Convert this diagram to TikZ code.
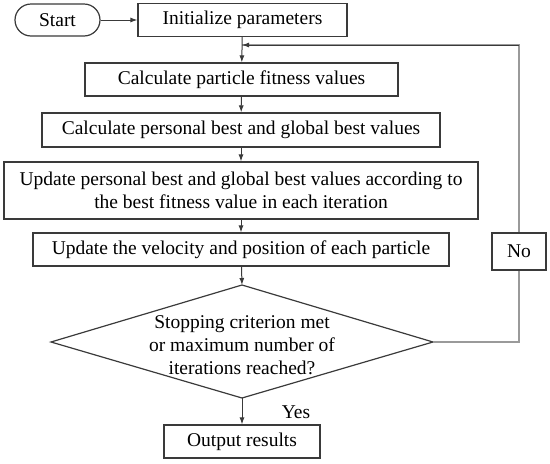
\documentclass[tikz,border=0pt]{standalone}
\usepackage{fontspec}
\setmainfont{Liberation Serif}
\usetikzlibrary{arrows.meta}
\definecolor{edge}{HTML}{3A3A3A}
\definecolor{fb}{HTML}{9A9A9A}
\tikzset{
  box/.style={draw=edge, line width=1.2pt, fill=white, inner sep=0pt, align=center,
    font=\fontsize{19.5}{23}\selectfont},
  conn/.style={draw=edge, line width=1pt, -{Latex[length=7pt,width=5pt]}},
  fbline/.style={draw=fb, line width=1.2pt},
  lbl/.style={inner sep=0pt, align=center, font=\fontsize{19.5}{23}\selectfont}
}
\begin{document}
\begin{tikzpicture}[x=1pt,y=-1pt]
\useasboundingbox (0,0) rectangle (550,464);
% decision diamond corners
\coordinate (dtop) at (242,285);
\coordinate (dright) at (433,342);
\coordinate (dbottom) at (242,398);
\coordinate (dleft) at (51,342);
\coordinate (fbc1) at (519,342);
\coordinate (fbc2) at (519,45);
\coordinate (fbend) at (242,45);

\node[box, rounded corners=16pt, minimum width=85pt, minimum height=32pt] (start) at (57.5,20) {Start};
\node[box, minimum width=209pt, minimum height=33pt] (init) at (242.5,20) {Initialize parameters};
\node[box, minimum width=313pt, minimum height=33pt] (fit) at (241.5,79.5) {Calculate particle fitness values};
\node[box, minimum width=398pt, minimum height=34pt] (pbest) at (241,130) {Calculate personal best and global best values};
\node[box, minimum width=474pt, minimum height=57pt] (upd) at (241,190.5) {Update personal best and global best values according to\\the best fitness value in each iteration};
\node[box, minimum width=416pt, minimum height=33pt] (vel) at (241,249.5) {Update the velocity and position of each particle};

\draw[draw=edge, line width=1.2pt] (dtop) -- (dright) -- (dbottom) -- (dleft) -- cycle;
\node[lbl] (dec) at (242,345) {Stopping criterion met\\or maximum number of\\iterations reached?};

% feedback loop
\draw[fbline] (dright) -- (fbc1) -- (fbc2) -- (fbend);
\draw[conn] (fbc2) -- (fbend);
\node[box, draw=edge, minimum width=54pt, minimum height=37pt] (no) at (519,251.5) {No};

\node[box, minimum width=156pt, minimum height=33pt] (out) at (242,441.5) {Output results};
\node[lbl] (yes) at (296,412) {Yes};

\draw[conn] (start) -- (init);
\draw[conn] (init) -- (fit);
\draw[conn] (fit) -- (pbest);
\draw[conn] (pbest) -- (upd);
\draw[conn] (upd) -- (vel);
\draw[conn] (vel) -- (dtop);
\draw[conn] (dbottom) -- (out);
\end{tikzpicture}
\end{document}
